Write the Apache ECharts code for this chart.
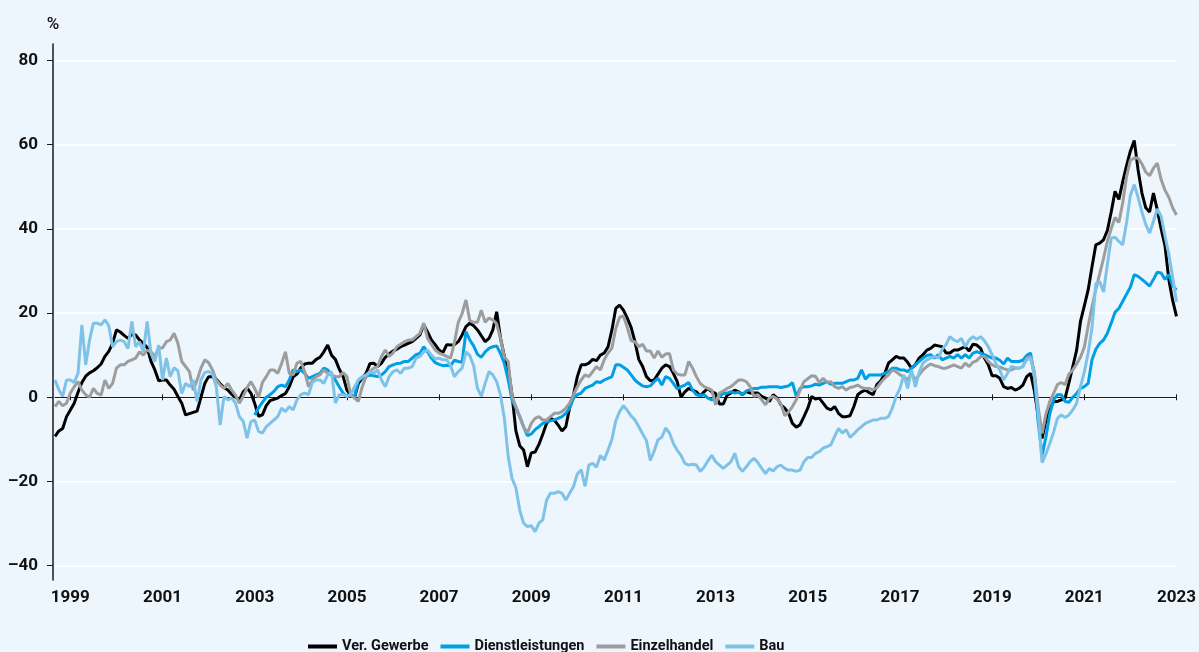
<!DOCTYPE html>
<html>
<head>
<meta charset="utf-8">
<title>Preiserwartungen</title>
<script src="https://cdn.jsdelivr.net/npm/echarts/dist/echarts.min.js"></script>
<style>
html, body { margin: 0; padding: 0; background: #eef6fd; }
#box { width: 1199px; height: 652px; }
</style>
</head>
<body>
<div id="box"></div>
<script>
// Monatswerte, Sep 1998 bis Jan 2023
var startYear = 1998, startMonth = 9, monthCount = 293;
var seriesNames = ['Ver. Gewerbe', 'Dienstleistungen', 'Einzelhandel', 'Bau'];
var yTicks = [-40, -20, 0, 20, 40, 60, 80];

var verGewerbe = [
  -9.3,-8.0,-7.4,-4.6,-3.0,-1.4,1.2,3.5,5.0,5.8,6.3,7.0,7.9,9.7,10.9,12.8,16.0,15.5,14.7,14.0,14.9,14.8,13.6,12.8,11.8,8.5,6.5,3.9,4.1,4.1,2.9,1.9,0.2,-1.4,-4.2,-3.9,-3.6,-3.3,0.0,3.3,4.9,4.9,4.3,3.2,2.3,1.7,0.7,0.0,-0.6,1.3,2.2,
  1.0,-1.5,-4.5,-4.2,-2.0,-0.8,-0.5,-0.2,0.4,0.9,2.5,4.9,5.5,7.0,7.9,8.1,8.1,9.0,9.5,10.8,12.4,10.0,9.0,6.7,5.0,1.7,0.5,0.0,3.3,4.5,5.7,8.0,8.1,7.3,8.1,9.5,10.3,11.0,11.4,12.0,12.4,12.8,13.2,14.0,14.8,17.2,15.5,13.6,12.5,11.2,
  10.6,12.5,12.4,12.5,13.2,14.8,16.8,17.6,17.0,16.0,14.6,13.2,14.0,16.0,20.3,14.0,9.7,7.0,0.5,-8.0,-11.5,-12.5,-16.5,-13.2,-13.0,-11.2,-8.8,-6.2,-5.0,-5.4,-6.6,-8.0,-7.0,-2.4,0.6,4.9,7.7,7.7,8.1,9.0,8.7,10.0,10.5,12.0,16.0,21.1,21.9,20.7,18.8,
  16.6,13.2,9.0,7.3,4.9,3.9,4.1,5.5,6.9,7.7,7.3,5.7,3.7,0.0,1.3,2.1,1.7,1.3,0.3,1.3,2.1,1.3,0.9,-1.6,-1.6,0.5,1.0,1.7,1.3,0.6,1.4,1.0,1.0,1.0,0.2,-0.2,-1.0,0.6,-0.2,-1.8,-2.6,-3.8,-6.2,-7.1,-6.5,-4.6,-2.6,0.2,-0.4,
  -0.2,-1.4,-2.6,-3.0,-2.2,-3.8,-4.6,-4.6,-4.4,-2.2,0.6,1.3,1.7,1.1,0.6,3.0,3.9,5.5,8.1,8.9,9.7,9.3,9.3,8.3,6.9,7.7,9.3,10.1,11.2,11.6,12.4,12.2,12.0,10.5,10.5,11.2,11.2,11.6,12.0,11.0,12.6,12.4,11.6,9.3,7.7,5.1,5.1,4.5,2.5,
  2.1,2.3,1.7,2.1,2.9,4.9,5.7,1.5,-4.5,-9.8,-5.5,-3.0,-1.0,-1.0,-0.6,-0.2,3.5,7.3,11.2,18.0,21.7,25.5,31.0,36.2,36.6,37.4,39.6,44.0,48.9,47.0,51.2,55.0,58.5,61.0,54.0,48.5,45.0,44.0,48.5,44.5,40.0,36.0,28.0,23.0,19.2
];

var dienstleistungen = [
  null,null,null,null,null,null,null,null,null,null,null,null,null,null,null,null,null,null,null,null,null,null,null,null,null,null,
  null,null,null,null,null,null,null,null,null,null,null,null,null,null,null,null,null,null,null,null,null,null,null,null,null,null,
  -4.2,-2.5,-1.2,0.0,0.6,1.4,2.5,2.9,2.5,4.1,6.5,6.1,6.5,5.7,4.5,4.9,5.3,5.7,6.9,6.5,5.3,4.1,2.5,1.0,0.2,0.4,0.0,4.1,4.5,5.0,5.3,5.1,4.9,5.3,6.1,7.3,7.7,8.0,8.1,8.5,8.5,9.3,10.1,10.4,12.0,10.8,9.3,8.2,7.8,
  7.5,7.6,7.5,8.8,8.5,8.3,15.6,13.6,12.2,10.2,9.5,10.8,11.6,12.0,12.2,10.4,8.0,4.1,-0.6,-2.6,-4.6,-7.0,-9.1,-8.7,-7.7,-7.0,-6.2,-5.8,-5.6,-5.4,-5.0,-4.6,-3.8,-2.6,-0.2,0.6,1.0,2.1,2.5,2.9,3.7,3.5,4.1,4.5,4.9,7.7,7.7,7.1,6.5,
  5.3,4.1,3.3,2.7,2.5,2.7,3.7,4.5,2.9,4.9,4.5,3.3,2.0,2.5,2.9,3.5,1.7,0.6,0.4,0.6,-0.2,-0.6,-0.5,0.2,0.9,1.0,1.3,1.0,1.2,0.6,1.5,1.8,2.1,2.1,2.4,2.4,2.5,2.5,2.5,2.3,2.5,2.7,3.5,0.2,2.1,2.5,2.5,2.7,3.1,
  2.9,3.3,3.7,3.1,3.3,3.3,3.3,3.7,4.1,4.1,4.5,6.5,4.3,5.3,5.3,5.3,5.3,5.7,6.1,6.9,6.9,6.5,6.5,6.1,6.9,7.7,8.5,9.3,9.9,10.1,9.3,10.1,8.9,9.3,9.7,9.3,10.1,9.3,10.1,9.3,10.5,10.8,10.5,10.1,9.7,9.3,9.3,8.8,7.9,
  9.3,8.5,8.5,8.5,8.8,9.9,10.5,5.0,-6.0,-13.8,-9.5,-4.0,-0.6,0.6,0.6,-1.0,-1.2,0.0,0.9,2.1,2.5,3.3,8.9,11.4,12.8,13.6,15.2,17.6,20.2,21.1,22.8,24.5,26.2,29.1,28.7,28.0,27.2,26.4,28.0,29.7,29.5,28.0,29.1,26.5,25.5
];

var einzelhandel = [
  -2.2,-1.0,-2.0,-1.4,1.0,2.5,3.7,1.7,0.6,0.0,2.1,0.9,0.5,4.1,2.1,3.3,6.9,7.7,7.7,8.5,8.9,9.3,10.8,10.0,11.2,10.8,9.7,11.7,11.7,13.2,13.6,15.2,12.8,8.5,7.3,6.1,1.7,4.1,6.9,8.9,8.2,6.5,4.1,2.9,2.1,3.3,1.7,0.5,-1.4,0.2,2.3,
  3.7,2.1,0.0,3.5,4.9,6.5,6.5,5.7,8.0,10.8,5.7,5.3,8.1,8.5,6.1,2.5,4.1,4.9,5.3,6.5,5.7,5.3,4.9,4.9,5.9,4.9,0.5,-0.2,-1.0,2.5,4.9,6.1,6.9,7.3,9.7,11.2,9.7,10.5,12.0,12.6,13.2,13.6,13.6,14.4,15.2,17.6,14.0,12.6,11.2,10.5,
  10.1,9.7,9.3,13.0,17.8,19.9,23.1,18.2,17.8,17.8,20.7,17.8,18.8,18.4,17.4,14.0,9.5,8.5,0.2,-2.2,-4.6,-7.0,-8.5,-6.2,-5.0,-4.6,-5.4,-5.4,-4.6,-3.8,-3.8,-3.4,-2.6,-1.4,0.6,2.5,4.1,5.3,4.9,6.1,7.3,6.5,8.9,10.5,11.7,16.3,19.0,19.3,16.6,
  13.4,13.2,12.0,12.6,11.0,11.0,9.3,11.0,9.5,10.3,10.4,6.5,5.5,5.3,5.3,8.5,6.9,4.9,3.3,2.5,2.1,1.7,-1.8,1.0,1.5,2.1,2.5,3.3,4.1,4.1,3.7,2.5,0.2,0.6,-0.6,-1.8,-0.2,0.2,-0.4,-1.6,-4.4,-3.5,-2.2,-0.6,1.7,3.7,4.4,5.1,5.0,
  3.5,4.5,3.5,3.7,2.5,2.1,2.5,1.7,2.3,2.5,2.9,2.3,2.1,2.1,1.7,2.3,3.5,4.5,5.3,6.5,6.1,5.3,4.9,4.1,5.7,4.1,5.3,6.5,7.3,7.9,7.5,7.3,6.9,6.9,7.3,7.7,7.3,6.9,8.1,7.3,8.3,8.7,9.7,9.7,8.5,7.7,7.3,7.2,6.8,
  6.5,6.5,6.9,6.9,7.3,9.3,9.7,6.0,-2.5,-8.6,-4.0,-1.0,0.9,3.0,3.5,3.0,5.5,6.5,7.9,9.5,11.9,16.9,21.5,25.7,29.3,33.0,37.0,40.0,42.7,41.5,46.2,52.4,56.3,56.8,56.8,55.4,53.5,52.6,54.4,55.6,51.7,49.2,47.5,45.0,43.3
];

var bau = [
  4.1,1.8,0.2,4.1,4.1,3.5,5.7,17.2,7.7,13.6,17.6,17.6,17.2,18.4,17.0,12.0,13.2,13.6,13.2,11.6,18.0,12.0,13.2,10.8,18.0,10.3,8.5,12.4,4.1,9.3,4.9,7.0,6.3,0.9,3.3,2.5,4.1,-1.0,4.1,5.9,6.1,5.5,2.5,-6.6,0.2,-0.6,-0.2,-1.4,-4.6,-5.7,-9.7,
  -5.8,-5.4,-8.1,-8.5,-7.0,-6.2,-5.4,-4.6,-2.6,-3.4,-2.2,-3.0,-0.6,0.6,1.0,0.6,3.5,4.1,4.1,3.3,5.3,6.1,-1.4,0.6,0.6,0.2,0.6,2.5,4.1,4.9,5.3,6.1,5.7,6.5,4.1,2.5,4.9,6.1,6.5,5.7,6.9,6.9,7.3,9.3,9.7,10.8,11.2,10.0,9.1,9.3,
  8.9,8.9,7.5,4.9,6.1,6.9,10.8,9.9,7.5,2.1,0.2,3.3,6.1,5.3,3.7,0.5,-5.0,-14.1,-19.3,-21.5,-26.8,-29.9,-30.7,-30.5,-31.9,-29.9,-29.1,-24.4,-22.8,-22.8,-22.4,-22.8,-24.4,-22.8,-21.2,-18.2,-17.2,-21.2,-16.1,-15.7,-16.6,-13.8,-14.9,-12.5,-10.0,-5.6,-3.4,-2.0,-3.1,
  -4.4,-5.4,-7.0,-8.7,-10.3,-15.0,-12.8,-10.1,-9.5,-7.3,-8.5,-11.0,-12.6,-13.8,-15.7,-16.1,-15.9,-16.1,-17.6,-16.6,-15.1,-13.8,-15.3,-16.1,-16.9,-16.1,-15.3,-13.3,-16.5,-17.6,-16.5,-15.3,-14.5,-15.5,-16.9,-18.1,-16.9,-17.5,-16.5,-16.1,-16.9,-17.3,-17.3,-17.6,-17.3,-15.3,-14.3,-14.3,-13.3,
  -12.9,-12.1,-11.7,-11.3,-9.3,-7.4,-8.5,-7.7,-9.5,-8.7,-7.7,-7.0,-6.2,-5.8,-5.4,-5.4,-5.0,-5.0,-4.6,-2.6,0.2,2.1,5.3,2.1,6.5,2.5,5.9,8.1,8.9,9.3,9.7,9.3,11.4,12.5,14.4,13.6,13.2,14.0,12.0,13.6,14.4,13.8,14.4,13.4,12.0,10.1,8.0,6.5,4.1,
  5.7,7.3,7.1,6.9,7.3,8.9,9.3,5.3,-4.0,-15.5,-13.5,-11.0,-8.3,-5.0,-4.2,-4.8,-4.2,-3.0,-1.4,2.5,6.0,10.5,16.5,27.0,27.5,25.0,31.5,37.8,38.0,37.0,36.2,41.5,48.0,50.5,47.5,44.0,41.0,39.0,41.8,44.7,43.0,38.3,34.0,28.5,22.7
];

var colors = ['#000000', '#009fe3', '#9d9d9d', '#7fc2e7'];

// Monatskategorien
var months = [];
for (var i = 0; i < monthCount; i++) {
    var m = startMonth - 1 + i;
    var y = startYear + Math.floor(m / 12);
    var mm = (m % 12) + 1;
    months.push(y + '-' + (mm < 10 ? '0' + mm : mm));
}

// Januar der ungeraden Jahre
function isTick(index, value) {
    var yr = parseInt(value.substring(0, 4), 10);
    return value.substring(5) === '01' && yr % 2 === 1;
}

var fontName = 'Roboto';
var dom = document.getElementById('box');
var myChart = echarts.init(dom, null, { renderer: 'canvas' });
var option = null;
option = {
    backgroundColor: '#eef6fd',
    animation: false,
    color: colors,
    textStyle: { fontFamily: fontName },
    grid: { left: 55, right: 18, top: 44, bottom: 72 },
    legend: {
        left: 303,
        top: 634,
        icon: 'rect',
        itemWidth: 29,
        itemHeight: 4,
        itemGap: 12,
        data: seriesNames,
        textStyle: { fontFamily: fontName, fontSize: 14.5, fontWeight: 'bold', color: '#111' }
    },
    xAxis: [
        {
            // Nulllinie mit Strichen nach unten
            type: 'category',
            data: months,
            boundaryGap: false,
            position: 'bottom',
            axisLine: { onZero: true, lineStyle: { color: '#1a1a1a', width: 1 } },
            axisTick: { show: true, interval: isTick, length: 3, lineStyle: { color: '#1a1a1a' } },
            axisLabel: { show: false },
            splitLine: { show: false }
        },
        {
            // Striche nach oben
            type: 'category',
            data: months,
            boundaryGap: false,
            position: 'top',
            axisLine: { show: false, onZero: true, onZeroAxisIndex: 0 },
            axisTick: { show: true, interval: isTick, length: 3, lineStyle: { color: '#1a1a1a' } },
            axisLabel: { show: false },
            splitLine: { show: false }
        },
        {
            // Jahreszahlen unten
            type: 'category',
            data: months,
            boundaryGap: false,
            position: 'bottom',
            axisLine: { show: false, onZero: false },
            axisTick: { show: false },
            axisLabel: {
                interval: isTick,
                margin: 9,
                fontFamily: fontName,
                fontSize: 17,
                fontWeight: 'bold',
                color: '#111',
                formatter: function (v) { return v.substring(0, 4); }
            },
            splitLine: { show: false }
        }
    ],
    yAxis: {
        type: 'value',
        min: -43.4,
        max: 83.9,
        offset: 2,
        name: '%',
        nameLocation: 'end',
        nameGap: 11,
        nameTextStyle: { fontFamily: fontName, fontSize: 17, fontWeight: 500, color: '#111', align: 'center' },
        axisLine: { show: true, lineStyle: { color: '#1a1a1a', width: 1.5 } },
        axisTick: { show: true, length: 6, customValues: yTicks, lineStyle: { color: '#1a1a1a' } },
        axisLabel: {
            customValues: yTicks,
            margin: 15,
            fontFamily: fontName,
            fontSize: 17,
            fontWeight: 'bold',
            color: '#111',
            formatter: function (v) { return v < 0 ? '\u2013' + Math.abs(v) : String(v); }
        },
        splitLine: { show: true, lineStyle: { color: '#ffffff', width: 1.5 } }
    },
    series: [
        { name: seriesNames[0], type: 'line', data: verGewerbe, symbol: 'none', lineStyle: { width: 3 } },
        { name: seriesNames[1], type: 'line', data: dienstleistungen, symbol: 'none', lineStyle: { width: 3 } },
        { name: seriesNames[2], type: 'line', data: einzelhandel, symbol: 'none', lineStyle: { width: 3 } },
        { name: seriesNames[3], type: 'line', data: bau, symbol: 'none', lineStyle: { width: 3 } }
    ]
};

if (option && typeof option === 'object') {
    myChart.setOption(option, true);
}
</script>
</body>
</html>
